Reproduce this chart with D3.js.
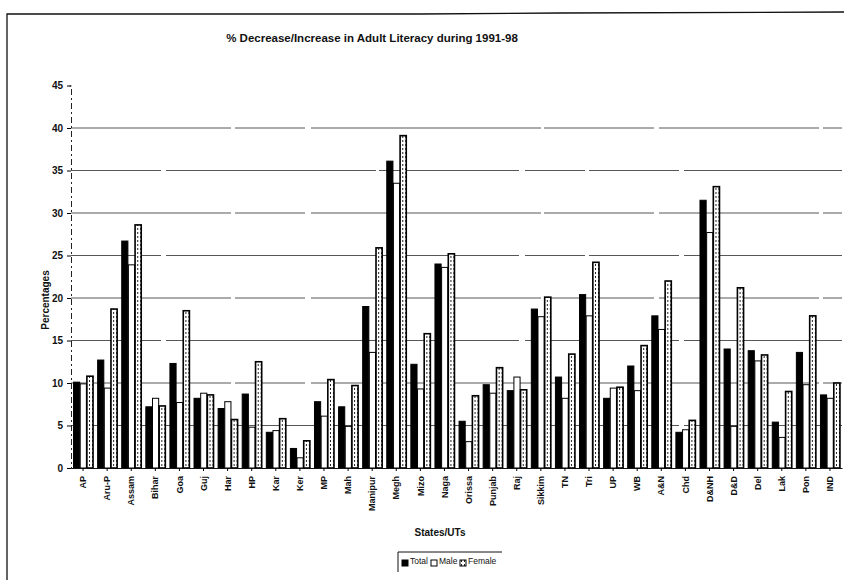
<!DOCTYPE html>
<html>
<head>
<meta charset="utf-8">
<script src="https://cdn.jsdelivr.net/npm/d3@7"></script>
<style>
  body { margin: 0; background: #fff; }
  text { font-family: "Liberation Sans", Arial, sans-serif; fill: #111; }
</style>
</head>
<body>
<div id="chart"></div>
<script>
// Daten
const categories = ["AP", "Aru-P", "Assam", "Bihar", "Goa", "Guj", "Har", "HP", "Kar", "Ker",
  "MP", "Mah", "Manipur", "Megh", "Mizo", "Naga", "Orissa", "Punjab", "Raj", "Sikkim",
  "TN", "Tri", "UP", "WB", "A&N", "Chd", "D&NH", "D&D", "Del", "Lak", "Pon", "IND"];

const totalVals  = [10.1, 12.7, 26.7, 7.2, 12.3, 8.2, 7.0, 8.7, 4.2, 2.3,
  7.8, 7.2, 19.0, 36.1, 12.2, 24.0, 5.5, 9.8, 9.1, 18.7,
  10.7, 20.4, 8.2, 12.0, 17.9, 4.2, 31.5, 14.0, 13.8, 5.4, 13.6, 8.6];
const maleVals   = [9.9, 9.4, 23.9, 8.2, 7.7, 8.8, 7.8, 4.8, 4.4, 1.2,
  6.1, 4.9, 13.6, 33.5, 9.3, 23.6, 3.1, 8.8, 10.7, 17.8,
  8.2, 17.9, 9.4, 9.1, 16.3, 4.5, 27.7, 4.9, 12.6, 3.6, 9.8, 8.2];
const femaleVals = [10.8, 18.7, 28.6, 7.3, 18.5, 8.6, 5.7, 12.5, 5.8, 3.2,
  10.4, 9.7, 25.9, 39.1, 15.8, 25.2, 8.5, 11.8, 9.2, 20.1,
  13.4, 24.2, 9.5, 14.4, 22.0, 5.6, 33.1, 21.2, 13.3, 9.0, 17.9, 10.0];

const seriesNames = ["Total", "Male", "Female"];
const yTicks = [0, 5, 10, 15, 20, 25, 30, 35, 40, 45];

const width = 844;
const height = 580;

const svg = d3.select("#chart")
  .append("svg")
  .attr("width", width)
  .attr("height", height);

// Muster für "Female" (schraffiert)
const defs = svg.append("defs");
const pat = defs.append("pattern")
  .attr("id", "hatch")
  .attr("patternUnits", "userSpaceOnUse")
  .attr("width", 3)
  .attr("height", 4);
pat.append("rect").attr("width", 3).attr("height", 4).attr("fill", "#fff");
pat.append("rect").attr("x", 1).attr("y", 0).attr("width", 1).attr("height", 2).attr("fill", "#222");

// Rahmen des Diagramms
svg.append("path")
  .attr("d", "M7,580 L7,14 L420,14 L560,13 L844,12")
  .attr("fill", "none")
  .attr("stroke", "#111")
  .attr("stroke-width", 1.3);

// Skalen
const x0 = d3.scaleBand()
  .domain(categories)
  .range([71, 842])
  .paddingInner(0.17)
  .paddingOuter(0.085);

const x1 = d3.scaleBand()
  .domain(seriesNames)
  .range([0, x0.bandwidth()]);

const y = d3.scaleLinear()
  .domain([0, 45])
  .range([468, 85.5]);

// Gitterlinien
svg.append("g")
  .selectAll("line")
  .data(yTicks.filter(d => d > 0 && d < 45))
  .enter()
  .append("line")
  .attr("x1", 71)
  .attr("x2", 842)
  .attr("y1", d => y(d))
  .attr("y2", d => y(d))
  .attr("stroke", "#444")
  .attr("stroke-width", 0.9)
  .attr("stroke-dasharray", (d, i) => i % 2 ? "160,4,70,6,230,3,110,5" : "90,5,210,3,140,6,60,4");

// Y-Achse
const yAxis = svg.append("g")
  .attr("transform", "translate(71,0)")
  .call(d3.axisLeft(y).tickValues(yTicks).tickSize(4).tickPadding(4));
yAxis.select(".domain").attr("stroke", "#222").attr("stroke-dasharray", "6,3,2,3");
yAxis.selectAll("text").style("font-size", "10px").style("font-weight", "bold");

// Balken
const rows = categories.map((c, i) => ({
  cat: c,
  vals: [
    { key: "Total", v: totalVals[i] },
    { key: "Male", v: maleVals[i] },
    { key: "Female", v: femaleVals[i] }
  ]
}));

const groups = svg.selectAll(".grp")
  .data(rows)
  .enter()
  .append("g")
  .attr("class", "grp")
  .attr("transform", d => `translate(${x0(d.cat)},0)`);

groups.selectAll("rect")
  .data(d => d.vals)
  .enter()
  .append("rect")
  .attr("x", d => x1(d.key) + 0.5)
  .attr("y", d => y(d.v))
  .attr("width", x1.bandwidth() - 0.5)
  .attr("height", d => y(0) - y(d.v))
  .attr("fill", d => d.key === "Total" ? "#000" : d.key === "Male" ? "#fff" : "url(#hatch)")
  .attr("stroke", "#000")
  .attr("stroke-width", d => d.key === "Female" ? 1.6 : 1);

// X-Achse
const xAxis = svg.append("g")
  .attr("transform", "translate(0,468)")
  .call(d3.axisBottom(x0).tickSize(3).tickSizeOuter(0));
xAxis.select(".domain").attr("stroke", "#111");
xAxis.selectAll("text")
  .style("font-size", "9px")
  .style("font-weight", "bold")
  .attr("transform", "rotate(-90)")
  .attr("text-anchor", "end")
  .attr("x", -8)
  .attr("y", 0)
  .attr("dy", "0.35em");

// Titel und Achsentitel
svg.append("text")
  .attr("x", 372)
  .attr("y", 42)
  .attr("text-anchor", "middle")
  .style("font-size", "11.5px")
  .style("font-weight", "bold")
  .text("% Decrease/Increase in Adult Literacy during 1991-98");

svg.append("text")
  .attr("transform", "translate(49,300) rotate(-90)")
  .attr("text-anchor", "middle")
  .style("font-size", "10px")
  .style("font-weight", "bold")
  .text("Percentages");

svg.append("text")
  .attr("x", 440)
  .attr("y", 536)
  .attr("text-anchor", "middle")
  .style("font-size", "10px")
  .style("font-weight", "bold")
  .text("States/UTs");

// Legende
const legend = svg.append("g").attr("transform", "translate(398,552)");
legend.append("path")
  .attr("d", "M0,20 L0,0 L104,0")
  .attr("fill", "none")
  .attr("stroke", "#111");

const legendItems = [
  { key: "Total", x: 4, fill: "#000" },
  { key: "Male", x: 33, fill: "#fff" },
  { key: "Female", x: 62, fill: "url(#hatch)" }
];
const li = legend.selectAll(".li")
  .data(legendItems)
  .enter()
  .append("g")
  .attr("transform", d => `translate(${d.x},0)`);
li.append("rect")
  .attr("x", 0)
  .attr("y", 8)
  .attr("width", 6)
  .attr("height", 6)
  .attr("fill", d => d.fill)
  .attr("stroke", "#000");
li.append("text")
  .attr("x", 8)
  .attr("y", 12)
  .style("font-size", "8.5px")
  .text(d => d.key);
</script>
</body>
</html>
